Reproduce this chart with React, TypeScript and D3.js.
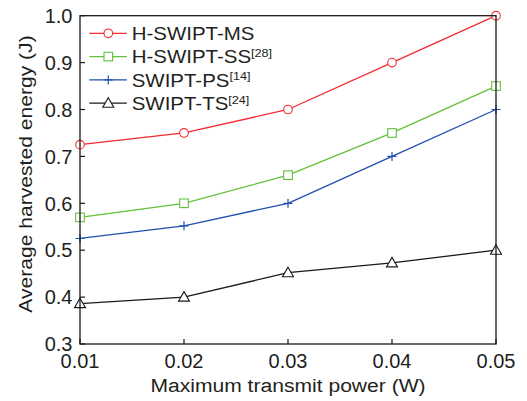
import React from "react";
import * as d3 from "d3";

const xValues = [0.01, 0.02, 0.03, 0.04, 0.05];
const msValues = [0.725, 0.75, 0.8, 0.9, 1.0];
const ssValues = [0.57, 0.6, 0.66, 0.75, 0.85];
const psValues = [0.525, 0.552, 0.6, 0.7, 0.8];
const tsValues = [0.386, 0.4, 0.452, 0.473, 0.5];
const yTicks = [0.3, 0.4, 0.5, 0.6, 0.7, 0.8, 0.9, 1.0];
const seriesNames = ["H-SWIPT-MS", "H-SWIPT-SS", "SWIPT-PS", "SWIPT-TS"];
const seriesRefs = ["", "[28]", "[14]", "[24]"];

const W = 527, H = 401;
const margin = { left: 80, right: 31, top: 15.7, bottom: 57 };
const FONT = "'Liberation Sans', Arial, sans-serif";
const TEXT = "#231f20";

export default function App() {
  const x = d3.scaleLinear().domain([0.01, 0.05]).range([margin.left, W - margin.right]);
  const y = d3.scaleLinear().domain([0.3, 1.0]).range([H - margin.bottom, margin.top]);
  const series = [
    { name: seriesNames[0], ref: seriesRefs[0], values: msValues, color: "#f32a2e", marker: "circle" },
    { name: seriesNames[1], ref: seriesRefs[1], values: ssValues, color: "#62c03a", marker: "square" },
    { name: seriesNames[2], ref: seriesRefs[2], values: psValues, color: "#1f4fb0", marker: "plus" },
    { name: seriesNames[3], ref: seriesRefs[3], values: tsValues, color: "#1a1a1a", marker: "triangle" },
  ];
  const line = d3.line<[number, number]>().x(d => x(d[0])).y(d => y(d[1]));

  const marker = (m: string, cx: number, cy: number, color: string, key: any) => {
    if (m === "circle") return <circle key={key} cx={cx} cy={cy} r={4.3} fill="white" stroke={color} strokeWidth={1.1} />;
    if (m === "square") return <rect key={key} x={cx - 4.3} y={cy - 4.3} width={8.6} height={8.6} fill="white" stroke={color} strokeWidth={1.1} />;
    if (m === "plus") return <path key={key} d={`M${cx - 4.5},${cy}H${cx + 4.5}M${cx},${cy - 4.5}V${cy + 4.5}`} stroke={color} strokeWidth={1.2} />;
    return <path key={key} d={`M${cx},${cy - 5.5}L${cx + 5.5},${cy + 4}L${cx - 5.5},${cy + 4}Z`} fill="white" stroke={color} strokeWidth={1.1} />;
  };

  const x0 = margin.left, x1 = W - margin.right, y0 = H - margin.bottom, y1 = margin.top;
  const legendX = 89.3, legendY0 = 33.3, legendDy = 23.3;

  return (
    <svg width={W} height={H} style={{ position: "absolute", left: 0, top: 0 }} fontFamily={FONT}>
      <rect width={W} height={H} fill="white" />
      {series.map((s, i) => (
        <g key={i}>
          <path d={line(xValues.map((xv, j) => [xv, s.values[j]]) as any) || ""} fill="none" stroke={s.color} strokeWidth={1.3} />
          {xValues.map((xv, j) => marker(s.marker, x(xv), y(s.values[j]), s.color, j))}
        </g>
      ))}
      <rect x={x0} y={y1} width={x1 - x0} height={y0 - y1} fill="none" stroke="#1a1a1a" strokeWidth={1.3} />
      {yTicks.map((t, i) => (
        <g key={i}>
          <line x1={x0} x2={x0 + 5} y1={y(t)} y2={y(t)} stroke="#1a1a1a" strokeWidth={1.2} />
          <text x={72.5} y={y(t)} dy="0.36em" textAnchor="end" fontSize={20} fill={TEXT}>{t.toFixed(1)}</text>
        </g>
      ))}
      {xValues.map((t, i) => (
        <g key={i}>
          <line x1={x(t)} x2={x(t)} y1={y0} y2={y0 - 5} stroke="#1a1a1a" strokeWidth={1.2} />
          <text x={x(t)} y={368} textAnchor="middle" fontSize={20} fill={TEXT}>{t.toFixed(2)}</text>
        </g>
      ))}
      <text transform={`translate(${(x0 + x1) / 2},391.7) scale(1.11,1)`} textAnchor="middle" fontSize={19} fill={TEXT}>Maximum transmit power (W)</text>
      <text transform={`translate(31.5,174) rotate(-90) scale(1.11,1)`} textAnchor="middle" fontSize={19} fill={TEXT}>Average harvested energy (J)</text>
      {series.map((s, i) => {
        const ly = legendY0 + i * legendDy;
        return (
          <g key={i}>
            <line x1={legendX} x2={legendX + 37.5} y1={ly} y2={ly} stroke={s.color} strokeWidth={1.3} />
            {marker(s.marker, legendX + 19, ly, s.color, "m")}
            <text transform={`translate(131.7,${ly}) scale(1.1,1)`} dy="0.36em" fontSize={18.6} fill={TEXT}>
              {s.name}
              {s.ref && <tspan fontSize={11.5} dy="-0.55em">{s.ref}</tspan>}
            </text>
          </g>
        );
      })}
    </svg>
  );
}
